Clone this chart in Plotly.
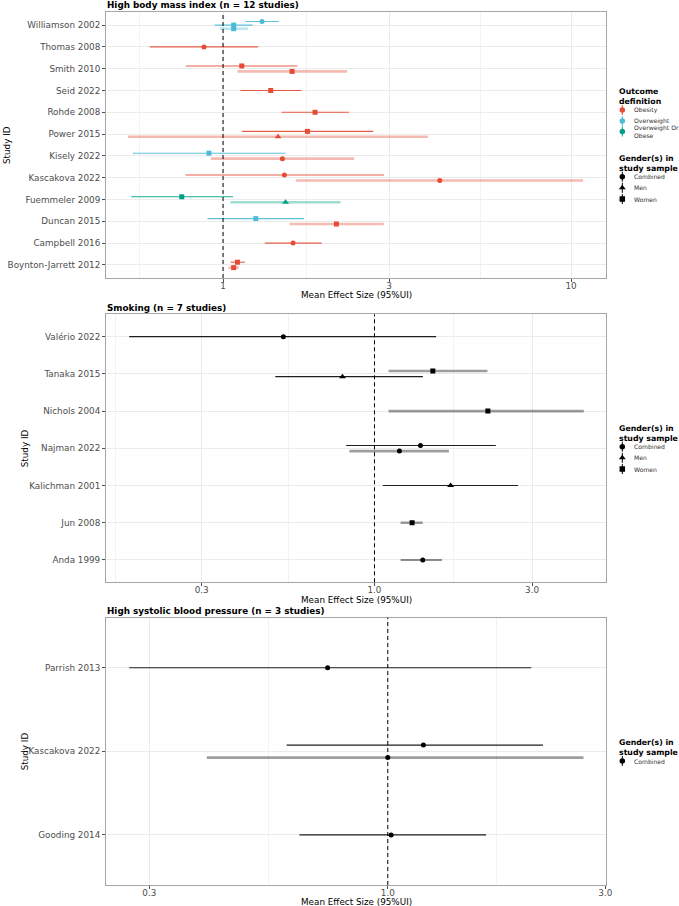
import math
import plotly.graph_objects as go

# ---------------- data ----------------
# Panel 1: High body mass index
bmi_study = ["Williamson 2002", "Williamson 2002", "Williamson 2002", "Thomas 2008",
             "Smith 2010", "Smith 2010", "Seid 2022", "Rohde 2008", "Power 2015", "Power 2015",
             "Kisely 2022", "Kisely 2022", "Kascakova 2022", "Kascakova 2022",
             "Fuemmeler 2009", "Fuemmeler 2009", "Duncan 2015", "Duncan 2015",
             "Campbell 2016", "Boynton-Jarrett 2012", "Boynton-Jarrett 2012"]
bmi_outcome = ["Overweight", "Overweight", "Overweight", "Obesity",
               "Obesity", "Obesity", "Obesity", "Obesity", "Obesity", "Obesity",
               "Overweight", "Obesity", "Obesity", "Obesity",
               "Overweight Or Obese", "Overweight Or Obese", "Overweight", "Obesity",
               "Obesity", "Obesity", "Obesity"]
bmi_gender = ["Combined", "Women", "Women", "Combined",
              "Women", "Women", "Women", "Women", "Women", "Men",
              "Women", "Combined", "Combined", "Combined",
              "Women", "Men", "Women", "Women",
              "Combined", "Women", "Women"]
bmi_mean = [1.294, 1.073, 1.073, 0.882, 1.132, 1.579, 1.371, 1.838, 1.748, 1.439,
            0.911, 1.481, 1.501, 4.195, 0.761, 1.512, 1.242, 2.117, 1.589, 1.100, 1.073]
bmi_lo = [1.160, 0.946, 0.978, 0.616, 0.781, 1.100, 1.122, 1.472, 1.134, 0.533,
          0.551, 0.922, 0.780, 1.618, 0.545, 1.050, 0.902, 1.555, 1.318, 1.052, 1.038]
bmi_hi = [1.446, 1.216, 1.178, 1.261, 1.636, 2.272, 1.680, 2.300, 2.700, 3.880,
          1.512, 2.379, 2.900, 10.83, 1.068, 2.175, 1.709, 2.896, 1.921, 1.157, 1.110]
bmi_secondary = [False, False, True, False, False, True, False, False, False, True,
                 False, True, False, True, False, True, False, True, False, False, True]

# Panel 2: Smoking
smk_study = ["Valério 2022", "Tanaka 2015", "Tanaka 2015", "Nichols 2004", "Najman 2022",
             "Najman 2022", "Kalichman 2001", "Jun 2008", "Anda 1999"]
smk_gender = ["Combined", "Women", "Men", "Women", "Combined", "Combined", "Men", "Women", "Combined"]
smk_mean = [0.530, 1.502, 0.800, 2.204, 1.378, 1.190, 1.700, 1.300, 1.400]
smk_lo = [0.181, 1.103, 0.501, 1.103, 0.821, 0.840, 1.060, 1.200, 1.200]
smk_hi = [1.537, 2.198, 1.401, 4.300, 2.330, 1.680, 2.720, 1.400, 1.600]
smk_secondary = [False, True, False, True, False, True, False, True, False]

# Panel 3: High systolic blood pressure
sbp_study = ["Parrish 2013", "Kascakova 2022", "Kascakova 2022", "Gooding 2014"]
sbp_gender = ["Combined", "Combined", "Combined", "Combined"]
sbp_mean = [0.738, 1.197, 1.000, 1.017]
sbp_lo = [0.271, 0.600, 0.401, 0.640]
sbp_hi = [2.063, 2.190, 2.687, 1.643]
sbp_secondary = [False, False, True, False]

outcome_levels = ["Obesity", "Overweight", "Overweight Or Obese"]
outcome_labels = ["Obesity", "Overweight", "Overweight Or<br>Obese"]
gender_levels = ["Combined", "Men", "Women"]

# ---------------- styling ----------------
W, H = 679, 906
outcome_rgb = {"Obesity": (230, 75, 53), "Overweight": (77, 187, 213), "Overweight Or Obese": (0, 160, 135)}
gender_symbol = {"Combined": "circle", "Men": "triangle-up", "Women": "square"}
gender_size = {"Combined": 5, "Men": 6, "Women": 5}
FONT = "DejaVu Sans"
TXT = 8.8

def px_x(p):
    return p / W

def px_y(p):
    return 1 - p / H

panels = [
    dict(title="High body mass index (n = 12 studies)", top=12, bot=278, ytitle_x=7,
         xr=(0.461, 12.6), ticks=[1, 3, 10], ticktext=["1", "3", "10"],
         minor=[0.577, 1.732, 5.477], dodge=0.5),
    dict(title="Smoking (n = 7 studies)", top=314.3, bot=582.3, ytitle_x=25,
         xr=(0.154, 5.02), ticks=[0.3, 1, 3], ticktext=["0.3", "1.0", "3.0"],
         minor=[0.164, 0.548, 1.732], dodge=0.3),
    dict(title="High systolic blood pressure (n = 3 studies)", top=617.7, bot=885, ytitle_x=25,
         xr=(0.241, 3.01), ticks=[0.3, 1, 3], ticktext=["0.3", "1.0", "3.0"],
         minor=[0.548, 1.732], dodge=0.3),
]
XL, XR = 106, 606

fig = go.Figure()

def dodge_positions(studies, width):
    cats = sorted(set(studies), key=lambda s: s.lower())
    idx = {c: i + 1 for i, c in enumerate(cats)}
    counts = {c: studies.count(c) for c in cats}
    seen = {c: 0 for c in cats}
    ys = []
    for s in studies:
        m = counts[s]
        k = seen[s]
        seen[s] += 1
        ys.append(idx[s] + width * ((m - 1) / 2 - k) / m)
    return cats, idx, ys

def add_panel(pi, studies, means, los, his, genders, secondary, colors_rgb):
    p = panels[pi]
    ax = "" if pi == 0 else str(pi + 1)
    cats, idx, ys = dodge_positions(studies, p["dodge"])
    for i in range(len(studies)):
        r, g, b = colors_rgb[i]
        black = (r, g, b) == (0, 0, 0)
        if secondary[i]:
            lc = f"rgba({r},{g},{b},0.38)"
            lw = 2.6
        else:
            lc = "rgba(30,30,30,1)" if black else f"rgba({r},{g},{b},0.9)"
            lw = 1.1
        fig.add_trace(go.Scatter(
            x=[means[i]], y=[ys[i]], mode="markers",
            marker=dict(symbol=gender_symbol[genders[i]], size=gender_size[genders[i]],
                        color=f"rgb({r},{g},{b})", line=dict(width=0)),
            error_x=dict(type="data", symmetric=False, array=[his[i] - means[i]],
                         arrayminus=[means[i] - los[i]], width=0, color=lc, thickness=lw),
            xaxis="x" + ax, yaxis="y" + ax, showlegend=False, hoverinfo="skip"))
    n = len(cats)
    dom_y = [px_y(p["bot"]), px_y(p["top"])]
    axis_common = dict(showline=True, linecolor="#A6A6A6", linewidth=1, mirror=True,
                       ticks="outside", ticklen=3, tickcolor="#4D4D4D", tickwidth=0.6,
                       gridcolor="#EBEBEB", gridwidth=0.8, zeroline=False, automargin=False,
                       tickfont=dict(family=FONT, size=TXT, color="#4D4D4D"))
    fig.update_layout(**{
        "xaxis" + ax: dict(axis_common, type="log", domain=[px_x(XL), px_x(XR)],
                           range=[math.log10(p["xr"][0]), math.log10(p["xr"][1])],
                           tickmode="array", tickvals=p["ticks"], ticktext=p["ticktext"],
                           anchor="y" + ax, ticklabelstandoff=-4,
                           minor=dict(tickmode="array", tickvals=p["minor"], showgrid=True,
                                      gridcolor="#F3F3F3", gridwidth=0.6, ticklen=0)),
        "yaxis" + ax: dict(axis_common, domain=dom_y, range=[0.4, n + 0.6],
                           tickmode="array", tickvals=[idx[c] for c in cats], ticktext=cats,
                           anchor="x" + ax),
    })
    fig.add_shape(type="line", xref="x" + ax, yref=("y" + ax) + " domain", x0=1, x1=1, y0=0, y1=1,
                  line=dict(color="black", width=1, dash="4px,3px"), layer="above")
    fig.add_annotation(text="<b>" + p["title"] + "</b>", xref="paper", yref="paper",
                       x=px_x(XL - 1), y=px_y(p["top"] - 6.8), xanchor="left", yanchor="middle",
                       showarrow=False, font=dict(family=FONT, size=TXT, color="black"))
    fig.add_annotation(text="Mean Effect Size (95%UI)", xref="paper", yref="paper",
                       x=px_x((XL + XR) / 2), y=px_y(p["bot"] + 17.2), xanchor="center",
                       yanchor="middle", showarrow=False,
                       font=dict(family=FONT, size=TXT, color="black"))
    fig.add_annotation(text="Study ID", xref="paper", yref="paper", textangle=-90,
                       x=px_x(p["ytitle_x"]), y=px_y((p["top"] + p["bot"]) / 2),
                       xanchor="center", yanchor="middle", showarrow=False,
                       font=dict(family=FONT, size=TXT, color="black"))

add_panel(0, bmi_study, bmi_mean, bmi_lo, bmi_hi, bmi_gender, bmi_secondary,
          [outcome_rgb[o] for o in bmi_outcome])
add_panel(1, smk_study, smk_mean, smk_lo, smk_hi, smk_gender, smk_secondary,
          [(0, 0, 0)] * len(smk_study))
add_panel(2, sbp_study, sbp_mean, sbp_lo, sbp_hi, sbp_gender, sbp_secondary,
          [(0, 0, 0)] * len(sbp_study))

# ---------------- legends (ggplot-style keys on a pixel overlay axis) ----------------
fig.update_layout(
    xaxis4=dict(domain=[0, 1], range=[0, W], visible=False, fixedrange=True, anchor="y4",
                automargin=False, showgrid=False, zeroline=False),
    yaxis4=dict(domain=[0, 1], range=[H, 0], visible=False, fixedrange=True, anchor="x4",
                automargin=False, showgrid=False, zeroline=False),
)
KEY_X, LABEL_X, TITLE_X = 622.3, 631.5, 616.5

def draw_legend(title_y, title, labels, colors, symbols, item_ys):
    fig.add_annotation(text="<b>" + title + "</b>", xref="paper", yref="paper",
                       x=px_x(TITLE_X), y=px_y(title_y), xanchor="left", yanchor="top",
                       align="left", showarrow=False,
                       font=dict(family=FONT, size=7.8, color="black"))
    for lab, col, sym, yy in zip(labels, colors, symbols, item_ys):
        fig.add_trace(go.Scatter(
            x=[KEY_X], y=[yy], mode="markers", xaxis="x4", yaxis="y4",
            marker=dict(symbol=sym, size=5.5 if sym != "triangle-up" else 6, color=col,
                        line=dict(width=0)),
            error_y=dict(type="constant", value=5, width=0, color=col, thickness=1),
            showlegend=False, hoverinfo="skip"))
        fig.add_annotation(text=lab, xref="paper", yref="paper", x=px_x(LABEL_X), y=px_y(yy),
                           xanchor="left", yanchor="middle", align="left", showarrow=False,
                           font=dict(family=FONT, size=6.1, color="#333333"))

draw_legend(85.5, "Outcome<br>definition", outcome_labels,
            ["rgb(%d,%d,%d)" % outcome_rgb[o] for o in outcome_levels],
            ["circle"] * 3, [110, 121, 131.5])
draw_legend(151.5, "Gender(s) in<br>study sample", gender_levels, ["black"] * 3,
            [gender_symbol[g] for g in gender_levels], [176.7, 187.8, 199])
g2 = sorted(set(smk_gender))
draw_legend(421.5, "Gender(s) in<br>study sample", g2, ["black"] * len(g2),
            [gender_symbol[g] for g in g2], [446.7, 457.8, 469])
g3 = sorted(set(sbp_gender))
draw_legend(735.5, "Gender(s) in<br>study sample", g3, ["black"] * len(g3),
            [gender_symbol[g] for g in g3], [761])

fig.update_layout(width=W, height=H, autosize=False, showlegend=False,
                  margin=dict(l=0, r=0, t=0, b=0, pad=0, autoexpand=False),
                  paper_bgcolor="white", plot_bgcolor="rgba(0,0,0,0)",
                  font=dict(family=FONT, color="black"))

fig.write_html("out.html", config={"displayModeBar": False},
               post_script="document.body.style.margin='0px';document.body.style.padding='0px';"
                           "document.body.style.overflow='hidden';")
